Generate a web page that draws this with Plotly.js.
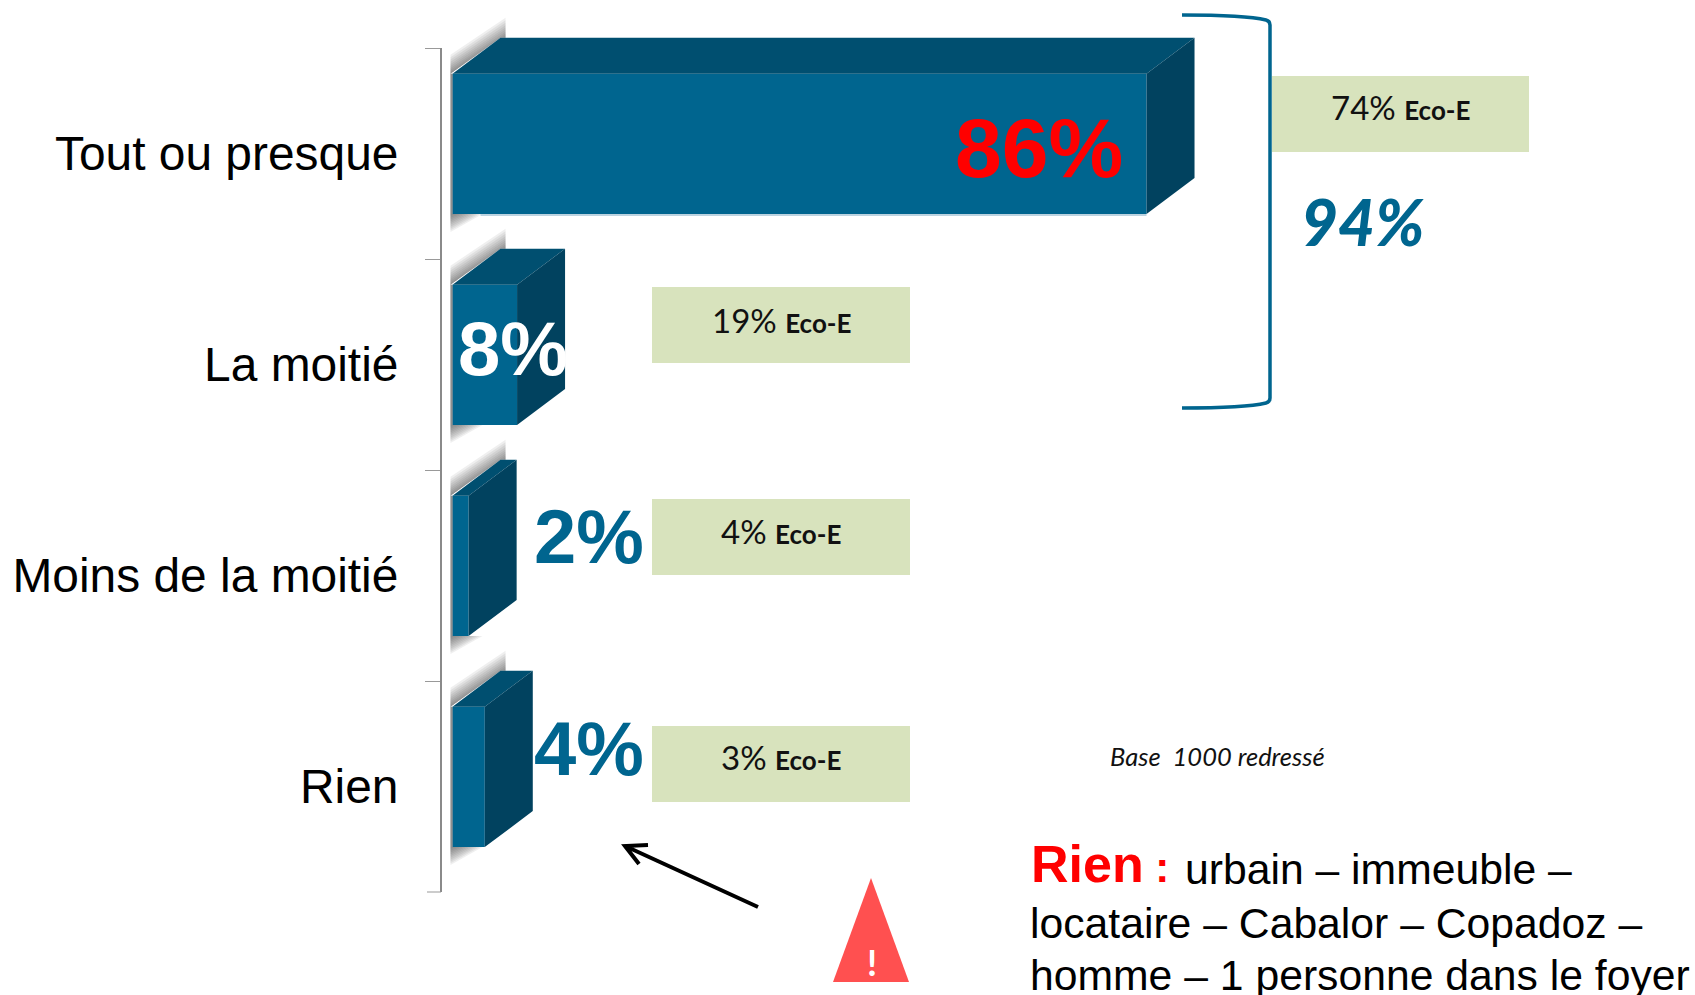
<!DOCTYPE html>
<html>
<head>
<meta charset="utf-8">
<script src="https://cdn.plot.ly/plotly-3.0.1.min.js"></script>
<style>html,body{margin:0;padding:0;background:#fff;overflow:hidden}#chart{width:1695px;height:995px}</style>
</head>
<body>
<div id="chart"></div>
<script>
// Survey answers and their shares (%)
var categories = ['Tout ou presque', 'La moitié', 'Moins de la moitié', 'Rien'];
var shares = [86, 8, 2, 4];
var ecoShares = [74, 19, 4, 3];
var shareColors = ['#FF0000', '#FFFFFF', '#00658F', '#00658F'];
var bracketTotal = 94;

// Page geometry: the plot area starts above the axis so the 3D faces have room
var W = 1695, H = 995, L = 442, TOPEDGE = 4, T = 48, B = 892;
var pxPerPct = 8.07, zeroPx = 452.5, pxPerCat = (B - T) / 4;
var barOffset = -0.378, barWidth = 0.665;
var depthX = 48 / pxPerPct, depthY = 36 / pxPerCat;
var FRONT = '#00658F', TOPFACE = '#004F70', SIDE = '#01425F';

var px = function (x) { return (x - L) / (W - L); };
var py = function (y) { return (B - y) / (B - TOPEDGE); };
var ux = 1 / pxPerPct, uy = 1 / pxPerCat;

function polygons(build) {
  var xs = [], ys = [];
  shares.forEach(function (v, i) {
    build(v, i + barOffset, i + barOffset + barWidth).forEach(function (p) {
      xs.push(p[0]); ys.push(p[1]);
    });
    xs.push(null); ys.push(null);
  });
  return { x: xs, y: ys };
}
function faceTrace(build, color) {
  var p = polygons(build);
  return { type: 'scatter', mode: 'lines', x: p.x, y: p.y, xaxis: 'x', yaxis: 'y2', fill: 'toself',
    fillcolor: color, line: { width: 0, color: color }, hoverinfo: 'skip' };
}

var traces = [{
  type: 'bar', orientation: 'h', y: categories, x: shares, offset: barOffset, width: barWidth,
  marker: { color: FRONT, line: { width: 0 } }, hoverinfo: 'skip', xaxis: 'x', yaxis: 'y'
}];

// Soft drop shadow built from stacked translucent layers behind each bar
var LAYERS = 10;
for (var k = 1; k <= LAYERS; k++) {
  (function (t) {
    traces.push(faceTrace(function (v, top, bot) {
      var reach = 20 * Math.pow(t, 1.3);
      return [
        [-2 * ux, top], [depthX, top - depthY], [depthX + 5 * ux, top - depthY],
        [depthX + 5 * ux, top - depthY - reach * uy], [-2 * ux, top - reach * uy * 0.95], [-2 * ux, top], [null, null],
        [-2 * ux, top], [0, top], [0, bot], [-2 * ux, bot], [-2 * ux, top], [null, null],
        [-2 * ux, bot], [(28 * t + 2) * ux, bot], [-2 * ux, bot + 18 * t * uy]
      ];
    }, 'rgba(70,70,70,0.085)'));
  })(k / LAYERS);
}

// Extruded top and side faces of each bar
traces.push(faceTrace(function (v, top) {
  return [[0, top], [v, top], [v + depthX, top - depthY], [depthX, top - depthY]];
}, TOPFACE));
traces.push(faceTrace(function (v, top, bot) {
  return [[v, top], [v + depthX, top - depthY], [v + depthX, bot - depthY], [v, bot]];
}, SIDE));

// Pale rim along the lower edge of the longest bar
traces.push({
  type: 'scatter', mode: 'lines', xaxis: 'x', yaxis: 'y2', hoverinfo: 'skip',
  x: [28 * ux, shares[0]], y: [barOffset + barWidth + uy, barOffset + barWidth + uy],
  line: { color: '#BCD3E0', width: 2 }
});

function ann(text, x, y, size, color, family, anchor, weight) {
  return { xref: 'paper', yref: 'paper', x: px(x), y: py(y), text: text, showarrow: false,
    xanchor: anchor || 'center', yanchor: 'middle', font: { size: size, color: color, family: family, weight: weight || 'normal' } };
}
function box(x0, y0, x1, y1) {
  return { type: 'rect', xref: 'paper', yref: 'paper', x0: px(x0), x1: px(x1), y0: py(y0), y1: py(y1),
    fillcolor: '#D8E3BD', line: { width: 0 }, layer: 'below' };
}
function pathShape(points, color, width, fill) {
  return { type: 'path', xref: 'paper', yref: 'paper', path: points, fillcolor: fill || 'rgba(0,0,0,0)',
    line: { color: color, width: width } };
}
function P(x, y) { return px(x) + ',' + py(y); }

var ARIAL = 'Liberation Sans, Arial, sans-serif', CAL = 'Lato, Carlito, sans-serif';
var ecoBoxes = [[1272, 76, 1529, 152], [652, 287, 910, 363], [652, 499, 910, 575], [652, 726, 910, 802]];
var ecoTextLift = [7, 5, 6, 7];
var shareAnchors = [[1039, 148], [513, 348], [589, 536], [589, 748]];

var annotations = [];
shares.forEach(function (v, i) {
  annotations.push(ann('<b>' + v + '%</b>', shareAnchors[i][0], shareAnchors[i][1], i === 0 ? 84 : 76, shareColors[i], ARIAL));
  var b = ecoBoxes[i];
  annotations.push(ann(ecoShares[i] + '% <b><span style="font-size:26px">Eco-E</span></b>',
    (b[0] + b[2]) / 2, (b[1] + b[3]) / 2 - ecoTextLift[i], 33, '#111111', CAL));
});
annotations.push(ann('<i>' + bracketTotal + '%</i>', 1362, 221, 64, FRONT, CAL, 'center', 900));
annotations.push(ann('<i>Base  1000 redressé</i>', 1217, 756, 25.5, '#111111', CAL));
annotations.push(ann('<b>!</b>', 872, 962, 36, '#FFFFFF', CAL));
annotations.push(ann('<b><span style="font-size:52px">Rien</span> :</b>', 1029, 864, 42, '#FF0000', ARIAL, 'left'));
annotations.push(ann('urbain – immeuble –', 1183, 869, 42.7, '#000000', ARIAL, 'left'));
annotations.push(ann('locataire – Cabalor – Copadoz –', 1028, 923, 42.7, '#000000', ARIAL, 'left'));
annotations.push(ann('homme – 1 personne dans le foyer', 1028, 975, 42.7, '#000000', ARIAL, 'left'));

var shapes = ecoBoxes.map(function (b) { return box(b[0], b[1], b[2], b[3]); });
shapes.push(pathShape('M' + P(1182, 15) + ' Q' + P(1245, 15) + ' ' + P(1266, 20) + ' Q' + P(1270, 21) + ' ' + P(1270, 25) +
  ' L' + P(1270, 398) + ' Q' + P(1270, 402) + ' ' + P(1266, 403) + ' Q' + P(1245, 408) + ' ' + P(1182, 408), FRONT, 3.5));
shapes.push(pathShape('M' + P(758, 907) + ' L' + P(625, 846) + ' M' + P(648, 845) + ' L' + P(625, 846) + ' L' + P(639, 864), '#000000', 4));
shapes.push(pathShape('M' + P(871, 878) + ' L' + P(909, 982) + ' L' + P(833, 982) + ' Z', '#FF5050', 0, '#FF5050'));
// Closing tick at the foot of the category axis
shapes.push({ type: 'line', xref: 'paper', yref: 'paper', x0: px(427), x1: px(441), y0: py(B), y1: py(B), line: { color: '#999999', width: 1 } });

var plotH = B - TOPEDGE;
var layout = {
  width: W, height: H, margin: { l: L, r: 0, t: TOPEDGE, b: H - B, pad: 0 },
  paper_bgcolor: '#FFFFFF', plot_bgcolor: 'rgba(0,0,0,0)', showlegend: false, dragmode: false,
  xaxis: { range: [(L - zeroPx) / pxPerPct, (W - zeroPx) / pxPerPct], visible: false, fixedrange: true, anchor: 'y' },
  yaxis: { type: 'category', categoryorder: 'array', categoryarray: categories, range: [3.5, -0.5], dtick: 1,
    domain: [0, (B - T) / plotH], anchor: 'x',
    tickson: 'boundaries', ticks: 'outside', ticklen: 15, tickwidth: 1, tickcolor: '#999999', ticklabelstandoff: 32,
    showline: true, linecolor: '#8A8A8A', linewidth: 2, showgrid: false, zeroline: false, fixedrange: true,
    tickfont: { family: ARIAL, size: 47.9, color: '#000000' } },
  yaxis2: { domain: [0, 1], anchor: 'x', range: [3.5, -0.5 - (T - TOPEDGE) / pxPerCat], visible: false, fixedrange: true },
  annotations: annotations, shapes: shapes
};
Plotly.newPlot('chart', traces, layout, { displayModeBar: false, staticPlot: true });
</script>
</body>
</html>
